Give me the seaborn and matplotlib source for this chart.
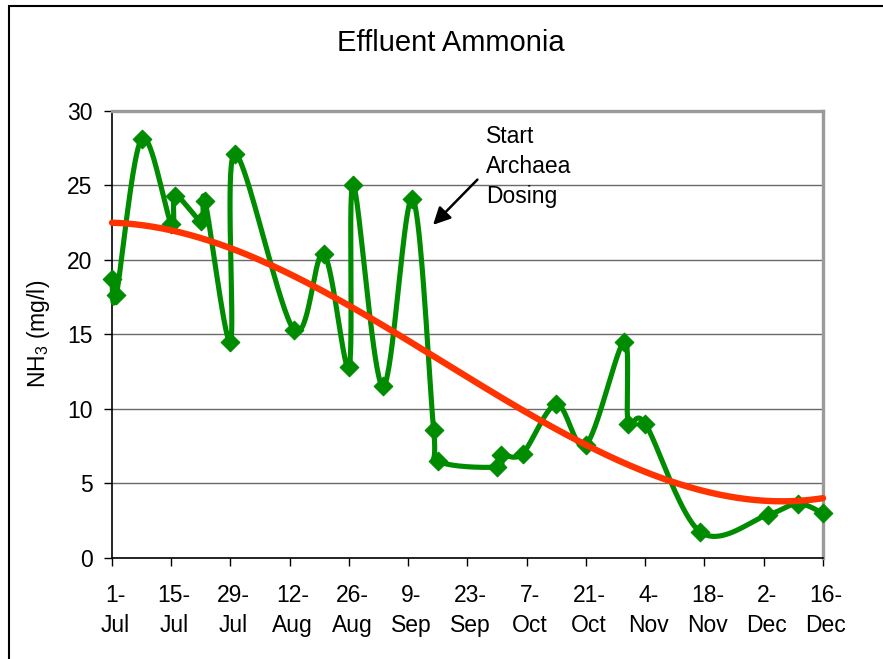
import numpy as np
import pandas as pd
import matplotlib
matplotlib.use("Agg")
import matplotlib.pyplot as plt
import seaborn as sns
from matplotlib.patches import Rectangle
from matplotlib.transforms import ScaledTranslation

# ---------------- data ----------------
sample_dates = ["2006-07-01", "2006-07-02", "2006-07-08", "2006-07-15", "2006-07-16",
                "2006-07-22", "2006-07-23", "2006-07-29", "2006-07-30", "2006-08-13",
                "2006-08-20", "2006-08-26", "2006-08-27", "2006-09-03", "2006-09-10",
                "2006-09-15", "2006-09-16", "2006-09-30", "2006-10-01", "2006-10-06",
                "2006-10-14", "2006-10-21", "2006-10-30", "2006-10-31", "2006-11-04",
                "2006-11-17", "2006-12-03", "2006-12-10", "2006-12-16"]
nh3_values = [18.7, 17.6, 28.1, 22.4, 24.3,
              22.6, 23.9, 14.5, 27.1, 15.3,
              20.4, 12.8, 25.0, 11.5, 24.1,
              8.6, 6.5, 6.1, 6.9, 7.0,
              10.3, 7.6, 14.5, 9.0, 9.0,
              1.75, 2.9, 3.65, 3.0]
tick_dates = ["2006-07-01", "2006-07-15", "2006-07-29", "2006-08-12", "2006-08-26",
              "2006-09-09", "2006-09-23", "2006-10-07", "2006-10-21", "2006-11-04",
              "2006-11-18", "2006-12-02", "2006-12-16"]
tick_labels = ["1-\nJul", "15-\nJul", "29-\nJul", "12-\nAug", "26-\nAug", "9-\nSep",
               "23-\nSep", "7-\nOct", "21-\nOct", "4-\nNov", "18-\nNov", "2-\nDec", "16-\nDec"]
y_ticks = [0, 5, 10, 15, 20, 25, 30]
title_text = "Effluent Ammonia"
note_text = "Start\nArchaea\nDosing"

# ---------------- helpers ----------------
start = pd.Timestamp(sample_dates[0])
days = np.array((pd.to_datetime(sample_dates) - start).days, dtype=float)
vals = np.array(nh3_values, dtype=float)
tdays = np.array((pd.to_datetime(tick_dates) - start).days, dtype=float)


def smooth_curve(x, y, n=40):
    """Excel-like smoothed line (Catmull-Rom Bezier through the points)."""
    P = np.column_stack([x, y])
    out = []
    m = len(P)
    for i in range(m - 1):
        p0 = P[i - 1] if i > 0 else P[i]
        p1, p2 = P[i], P[i + 1]
        p3 = P[i + 2] if i + 2 < m else P[i + 1]
        c1 = p1 + (p2 - p0) / 6.0
        c2 = p2 - (p3 - p1) / 6.0
        t = np.linspace(0, 1, n)[:, None]
        seg = ((1 - t) ** 3) * p1 + 3 * ((1 - t) ** 2) * t * c1 + 3 * (1 - t) * t ** 2 * c2 + t ** 3 * p2
        out.append(seg if i == 0 else seg[1:])
    out = np.vstack(out)
    return out[:, 0], out[:, 1]


sx, sy = smooth_curve(days, vals)
coef = np.polyfit(days, vals, 3)
tx = np.linspace(0, days.max(), 300)
ty = np.polyval(coef, tx)

# ---------------- style ----------------
sns.set_theme(style="white")
plt.rcParams["font.family"] = ["Liberation Sans", "DejaVu Sans"]
green = "#008C00"
red = "#FF3300"

fig = plt.figure(figsize=(8.83, 6.59), dpi=100)
fig.patch.set_facecolor("white")
ax = fig.add_axes([112 / 883, 1 - 558 / 659, (823 - 112) / 883, (558 - 110.5) / 659])
ax.set_facecolor("white")

# gridlines
ax.set_axisbelow(True)
ax.yaxis.grid(True, color="#6a6a6a", lw=1.0)
ax.xaxis.grid(False)

sns.lineplot(x=sx, y=sy, ax=ax, color=green, lw=3.7, sort=False, estimator=None,
             zorder=3, clip_on=False)
sns.scatterplot(x=days, y=vals, ax=ax, marker="D", s=90, color=green, edgecolor=green,
                linewidth=0.8, zorder=4, clip_on=False)
sns.lineplot(x=tx, y=ty, ax=ax, color=red, lw=4.6, sort=False, estimator=None,
             zorder=5, clip_on=False)

ax.set_xlim(0, 168)
ax.set_ylim(0, 30)
ax.set_xticks(tdays)
ax.set_xticklabels(tick_labels, linespacing=1.4)
ax.set_yticks(y_ticks)
ax.tick_params(axis="both", which="both", direction="out", length=5.5, width=1.0,
               color="black", labelsize=16.5, colors="black")
ax.tick_params(axis="x", pad=13)
ax.tick_params(axis="y", pad=8.5, left=True)
ax.tick_params(axis="x", bottom=True)
shift = ScaledTranslation(3 / 100, 0, fig.dpi_scale_trans)
for lab in ax.get_xticklabels():
    lab.set_transform(lab.get_transform() + shift)

for s in ["left", "bottom"]:
    ax.spines[s].set_color("black")
    ax.spines[s].set_linewidth(1.2)
for s in ["top", "right"]:
    ax.spines[s].set_color("#9a9a9a")
    ax.spines[s].set_linewidth(2.4)

ax.set_ylabel("NH$_\\mathregular{3}$ (mg/l)", fontsize=16.5, color="black")
ax.yaxis.set_label_coords(-0.0844, 0.5)

ax.annotate("", xy=(75.4, 22.2), xytext=(86.8, 25.5),
            arrowprops=dict(arrowstyle="-|>", color="black", lw=1.8, mutation_scale=26),
            zorder=6)
ax.text(88.45, 29.05, note_text, ha="left", va="top", fontsize=16.5, linespacing=1.4,
        color="black", zorder=6)

fig.text(451 / 883, 1 - 43 / 659, title_text, ha="center", va="center", fontsize=21,
         color="black")

# outer chart border (left and top visible)
fig.patches.append(Rectangle((9 / 883, -0.5), 2.0, 0.5 + 1 - 6 / 659,
                             transform=fig.transFigure, fill=False, lw=1.5,
                             ec="black", zorder=0))

fig.savefig("out.png", dpi=100, facecolor="white")
